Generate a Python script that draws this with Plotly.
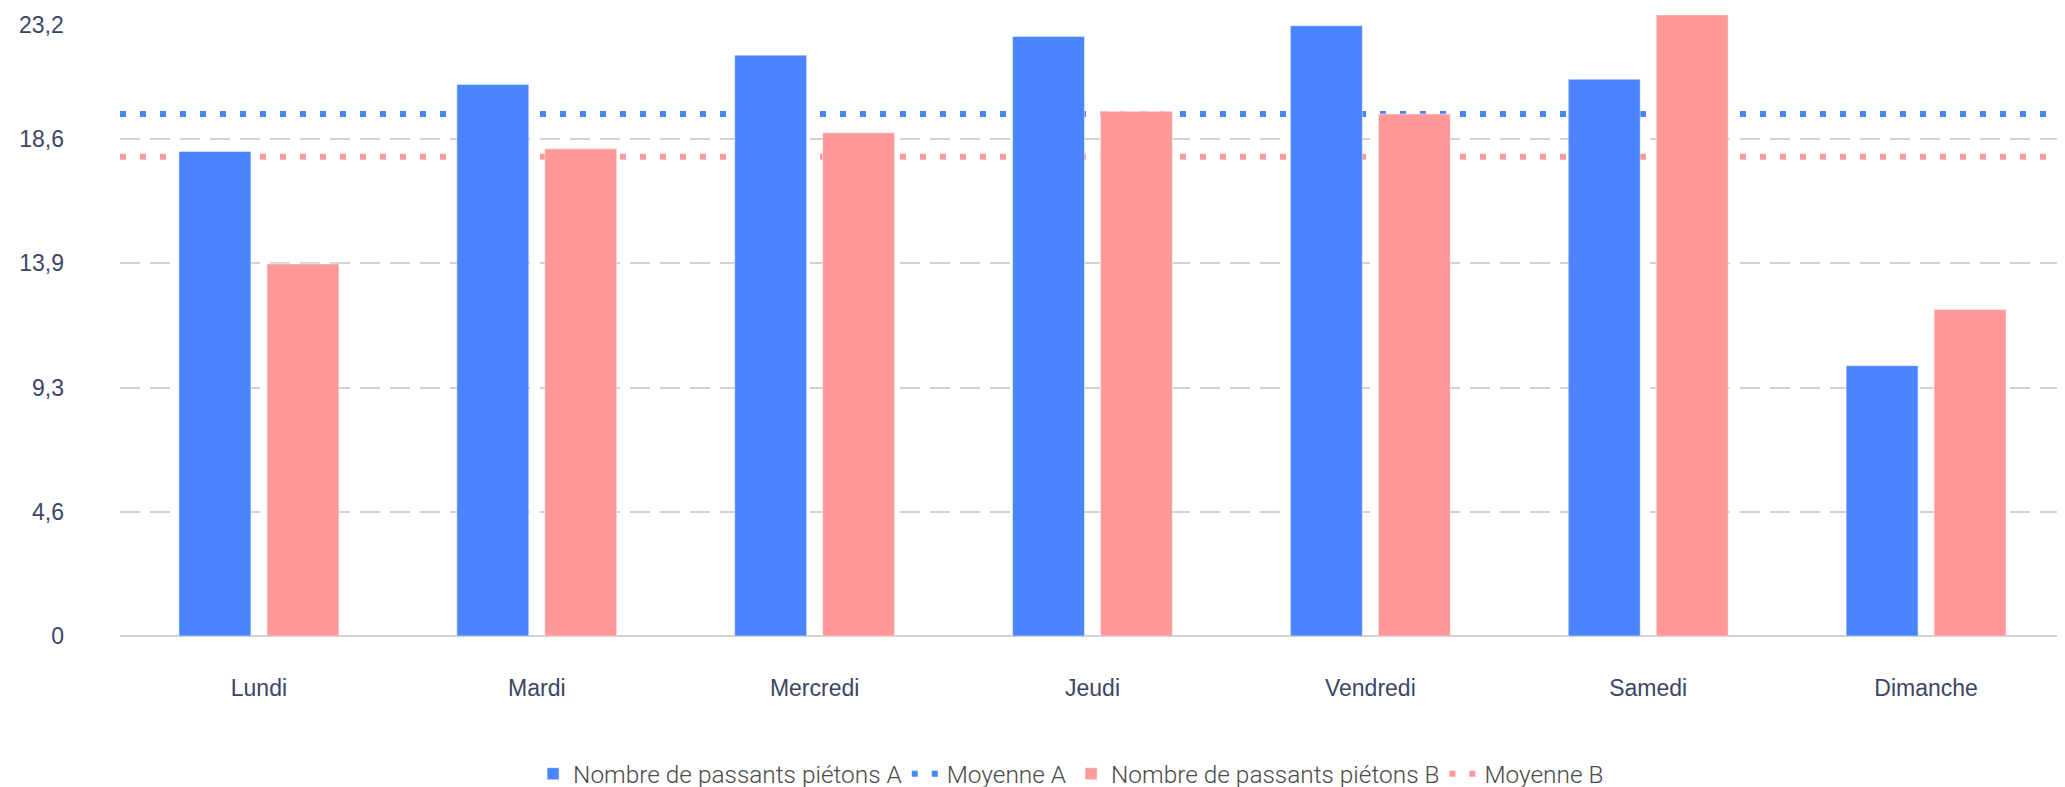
import plotly.graph_objects as go

# ---- data ----
jours = ["Lundi", "Mardi", "Mercredi", "Jeudi", "Vendredi", "Samedi", "Dimanche"]
passants_a = [18.1, 20.6, 21.7, 22.4, 22.8, 20.8, 10.1]
passants_b = [13.9, 18.2, 18.8, 19.6, 19.5, 23.2, 12.2]
moyenne_a = 19.5
moyenne_b = 17.9
y_tickvals = [0, 4.64, 9.28, 13.92, 18.56, 23.2]
y_ticktext = ["0", "4,6", "9,3", "13,9", "18,6", "23,2"]
y_max = 23.2

BLUE = "#4a85ff"
PINK = "#ff9999"
TEXT = "#3d4566"
GRID = "#d2d2d2"

fig = go.Figure()
fig.add_trace(go.Bar(
    x=jours, y=passants_a, name="Nombre de passants piétons A",
    marker=dict(color=BLUE, line=dict(width=1, color="rgba(255,255,255,0.45)")),
    legendrank=1,
))
fig.add_trace(go.Bar(
    x=jours, y=passants_b, name="Nombre de passants piétons B",
    marker=dict(color=PINK, line=dict(width=1, color="rgba(255,255,255,0.45)")),
    legendrank=3,
))

for val, col, nm, rk in [(moyenne_a, BLUE, "Moyenne A", 2), (moyenne_b, PINK, "Moyenne B", 4)]:
    fig.add_shape(
        type="line", xref="paper", yref="y", x0=0, x1=1, y0=val, y1=val,
        line=dict(color=col, width=6, dash="6px,14px"),
        layer="between", showlegend=True, name=nm, legendrank=rk,
    )

# the top tick label sits a little lower than its gridline (kept inside the page)
shown_ticktext = y_ticktext[:-1] + [""]
fig.add_annotation(
    text=y_ticktext[-1], xref="paper", yref="y", x=0, y=y_tickvals[-1],
    xanchor="right", yanchor="middle", xshift=-54, yshift=-10, showarrow=False,
    font=dict(family="Liberation Sans, Arial, sans-serif", size=23, color=TEXT),
)

fig.update_layout(
    width=2057, height=779,
    margin=dict(l=112, r=0, t=7, b=151, autoexpand=False),
    paper_bgcolor="white", plot_bgcolor="white",
    barmode="group", bargap=0.367, bargroupgap=0.182,
    font=dict(family="Liberation Sans, Arial, sans-serif", size=23, color=TEXT),
    showlegend=True,
    legend=dict(
        orientation="h", x=0.489, xanchor="center", y=-0.222, yanchor="middle",
        font=dict(family="Roboto", size=24.4, color="#4a4a4a", weight=300),
        bgcolor="rgba(0,0,0,0)",
    ),
    xaxis=dict(
        showgrid=False, showline=False, zeroline=False, ticks="",
        ticklabelstandoff=36,
        tickfont=dict(size=23, color=TEXT),
    ),
    yaxis=dict(
        range=[0, y_max], tickvals=y_tickvals, ticktext=shown_ticktext,
        showgrid=True, gridcolor=GRID, gridwidth=2, griddash="20px,10px",
        zeroline=True, zerolinecolor=GRID, zerolinewidth=2,
        showline=False, ticks="", ticklabelstandoff=55,
        tickfont=dict(size=23, color=TEXT),
    ),
)

fig.write_html("out.html")
